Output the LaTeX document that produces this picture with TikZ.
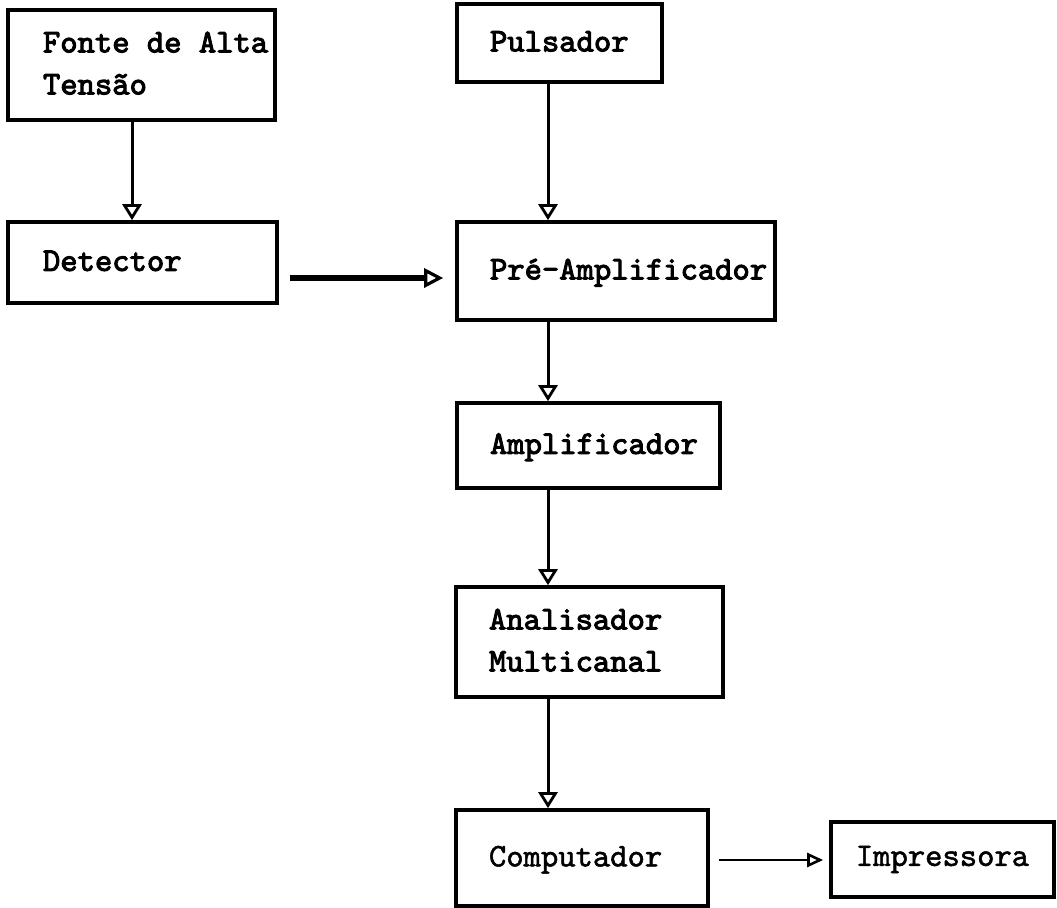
\documentclass[tikz,border=0pt]{standalone}
\usepackage{fontspec}
\newfontfamily\twfont{lmmono10-regular.otf}[FakeBold=3]
\newfontfamily\twlight{lmmono10-regular.otf}[FakeBold=1.5]
\usetikzlibrary{arrows.meta}
\newcommand{\bt}[3]{\makebox[#1][l]{\hspace*{#2}\begin{tabular}{@{}l@{}}#3\end{tabular}}}
\begin{document}
\begin{tikzpicture}[x=0.5pt,y=-0.5pt,
  blk/.style={draw, line width=1.8pt, inner xsep=0pt, inner ysep=0pt,
    font=\twfont\fontsize{16.5}{21}\selectfont},
  lightblk/.style={blk, font=\twlight\fontsize{16.5}{21}\selectfont},
  varrow/.style={line width=1.5pt, -{Triangle[open,length=8pt,width=9.5pt,line width=1.4pt]}},
  harrow/.style={line width=3pt, -{Triangle[open,length=9.5pt,width=9.5pt,line width=1.6pt]}, shorten <=5.5pt, shorten >=6pt},
  tarrow/.style={line width=1.4pt, -{Triangle[open,length=8pt,width=7pt,line width=1.3pt]}, shorten <=4.5pt, shorten >=3pt}
]
\useasboundingbox (0,0) rectangle (1057,908);

\node[blk, minimum width=133.5pt, minimum height=55pt] (fonte) at (141.5,65)
  {\bt{133.5pt}{17.5pt}{Fonte de Alta\\Tensão}};
\node[blk, minimum width=134.5pt, minimum height=40.5pt] (det) at (142.5,262.5)
  {\bt{134.5pt}{17.5pt}{Detector}};
\node[blk, minimum width=102.5pt, minimum height=39pt] (puls) at (559.5,43)
  {\bt{102.5pt}{16.5pt}{Pulsador}};
\node[blk, minimum width=159pt, minimum height=49pt] (pre) at (616,271)
  {\bt{159pt}{16.5pt}{Pré-Amplificador}};
\node[blk, minimum width=131.5pt, minimum height=42.5pt] (amp) at (588.5,445.5)
  {\bt{131.5pt}{16.5pt}{Amplificador}};
\node[blk, minimum width=133.5pt, minimum height=55pt] (anal) at (589.5,642)
  {\bt{133.5pt}{16.5pt}{Analisador\\Multicanal}};
\node[lightblk, minimum width=126pt, minimum height=48pt] (comp) at (582,858)
  {\bt{126pt}{16.5pt}{Computador}};
\node[lightblk, minimum width=111.5pt, minimum height=37.5pt] (imp) at (942.5,859.5)
  {Impressora};

\coordinate (fx) at (132,0);
\coordinate (ax) at (548,0);
\coordinate (hy) at (0,278);
\coordinate (cy) at (0,860);

\draw[varrow] (fonte.south -| fx) -- (det.north -| fx);
\draw[varrow] (puls.south -| ax) -- (pre.north -| ax);
\draw[varrow] (pre.south -| ax) -- (amp.north -| ax);
\draw[varrow] (amp.south -| ax) -- (anal.north -| ax);
\draw[varrow] (anal.south -| ax) -- (comp.north -| ax);
\draw[harrow] (det.east |- hy) -- (pre.west |- hy);
\draw[tarrow] (comp.east |- cy) -- (imp.west |- cy);
\end{tikzpicture}
\end{document}
